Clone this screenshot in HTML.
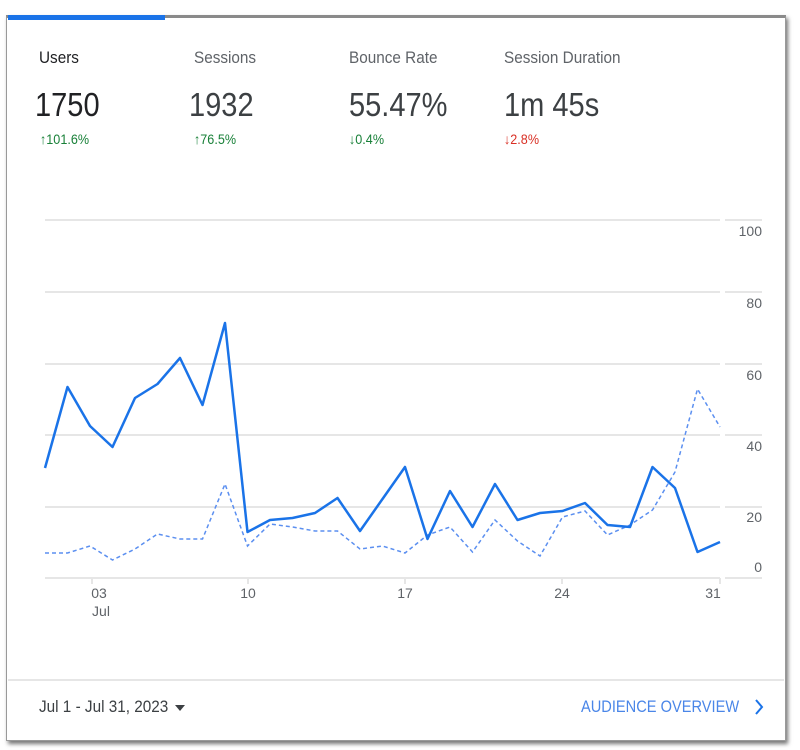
<!DOCTYPE html>
<html><head><meta charset="utf-8"><style>
body{margin:0;width:800px;height:750px;background:#fff;position:relative;font-family:"Liberation Sans",sans-serif;overflow:hidden}
.card{position:absolute;left:6px;top:15px;width:778px;height:722px;border:1px solid #999;border-top:3px solid #8a8a8a;box-shadow:2px 3px 4px #777;background:#fff}
.t{position:absolute;white-space:nowrap;transform-origin:0 0}
</style></head><body>
<div class="card"></div>
<div style="position:absolute;left:8px;top:15px;width:157px;height:5px;background:#1a73e8"></div>
<div class="t" style="left:39px;top:48px;font-size:17px;color:#202124;transform:scaleX(.9)">Users</div>
<div class="t" style="left:194px;top:48px;font-size:17px;color:#5f6368;transform:scaleX(.9)">Sessions</div>
<div class="t" style="left:349px;top:48px;font-size:17px;color:#5f6368;transform:scaleX(.9)">Bounce Rate</div>
<div class="t" style="left:504px;top:48px;font-size:17px;color:#5f6368;transform:scaleX(.9)">Session Duration</div>
<div class="t" style="left:35px;top:86px;font-size:33px;color:#202124;transform:scaleX(.88)">1750</div>
<div class="t" style="left:189px;top:86px;font-size:33px;color:#3c4043;transform:scaleX(.88)">1932</div>
<div class="t" style="left:349px;top:86px;font-size:33px;color:#3c4043;transform:scaleX(.88)">55.47%</div>
<div class="t" style="left:504px;top:86px;font-size:33px;color:#3c4043;transform:scaleX(.88)">1m 45s</div>
<div class="t" style="left:40px;top:131px;font-size:14px;color:#188038;transform:scaleX(.9)">↑101.6%</div>
<div class="t" style="left:194px;top:131px;font-size:14px;color:#188038;transform:scaleX(.9)">↑76.5%</div>
<div class="t" style="left:349px;top:131px;font-size:14px;color:#188038;transform:scaleX(.9)">↓0.4%</div>
<div class="t" style="left:504px;top:131px;font-size:14px;color:#d93025;transform:scaleX(.9)">↓2.8%</div>
<svg style="position:absolute;left:0;top:0" width="800" height="750">
<g stroke="#e6e6e6" stroke-width="2">
<line x1="45" y1="220" x2="720" y2="220"/><line x1="725" y1="220" x2="762" y2="220"/>
<line x1="45" y1="292" x2="720" y2="292"/><line x1="725" y1="292" x2="762" y2="292"/>
<line x1="45" y1="364" x2="720" y2="364"/><line x1="725" y1="364" x2="762" y2="364"/>
<line x1="45" y1="435" x2="720" y2="435"/><line x1="725" y1="435" x2="762" y2="435"/>
<line x1="45" y1="507" x2="720" y2="507"/><line x1="725" y1="507" x2="762" y2="507"/>
<line x1="45" y1="578" x2="720" y2="578"/><line x1="725" y1="578" x2="762" y2="578"/>
<line x1="92" y1="578" x2="92" y2="584"/><line x1="248" y1="578" x2="248" y2="584"/><line x1="405" y1="578" x2="405" y2="584"/><line x1="562" y1="578" x2="562" y2="584"/><line x1="720" y1="578" x2="720" y2="584"/>
<line x1="8" y1="680" x2="784" y2="680"/>
</g>
<g font-size="14" fill="#5f6368" text-anchor="end">
<text x="762" y="236">100</text><text x="762" y="308">80</text><text x="762" y="380">60</text><text x="762" y="451">40</text><text x="762" y="522">20</text><text x="762" y="572">0</text>
</g>
<g font-size="14" fill="#5f6368" text-anchor="middle">
<text x="99" y="598">03</text><text x="101" y="616">Jul</text><text x="248" y="598">10</text><text x="405" y="598">17</text><text x="562" y="598">24</text><text x="713" y="598">31</text>
</g>
<polyline fill="none" stroke="#5b8ff0" stroke-width="1.5" stroke-dasharray="4,3" points="45,553 67.5,553 90,546 112.5,560 135,549 157.5,534 180,539 202.5,539 225,484 247.5,546 270,524 292.5,527 315,531 337.5,531 360,549 382.5,546 405,553 427.5,535 450,527 472.5,552 495,520 517.5,541 540,556 562.5,517 585,511 607.5,535 630,525 652.5,510 675,472 697.5,389 720,427"/>
<polyline fill="none" stroke="#1a73e8" stroke-width="2.5" stroke-linejoin="round" points="45,468 67.5,387 90,426 112.5,447 135,398 157.5,384 180,358 202.5,405 225,323 247.5,532 270,520 292.5,518 315,513 337.5,498 360,531 382.5,499 405,467 427.5,539 450,491 472.5,527 495,484 517.5,520 540,513 562.5,511 585,503 607.5,525 630,527 652.5,467 675,488 697.5,552 720,542"/>
<path d="M175 705 l10 0 l-5 6z" fill="#3c4043"/>
<path d="M756 700 l6 7 l-6 7" fill="none" stroke="#1a73e8" stroke-width="2"/>
</svg>
<div class="t" style="left:39px;top:697px;font-size:17px;color:#3c4043;transform:scaleX(.9)">Jul 1 - Jul 31, 2023</div>
<div class="t" style="left:581px;top:697px;font-size:17px;color:#4a86e8;transform:scaleX(.86)">AUDIENCE OVERVIEW</div>
</body></html>
